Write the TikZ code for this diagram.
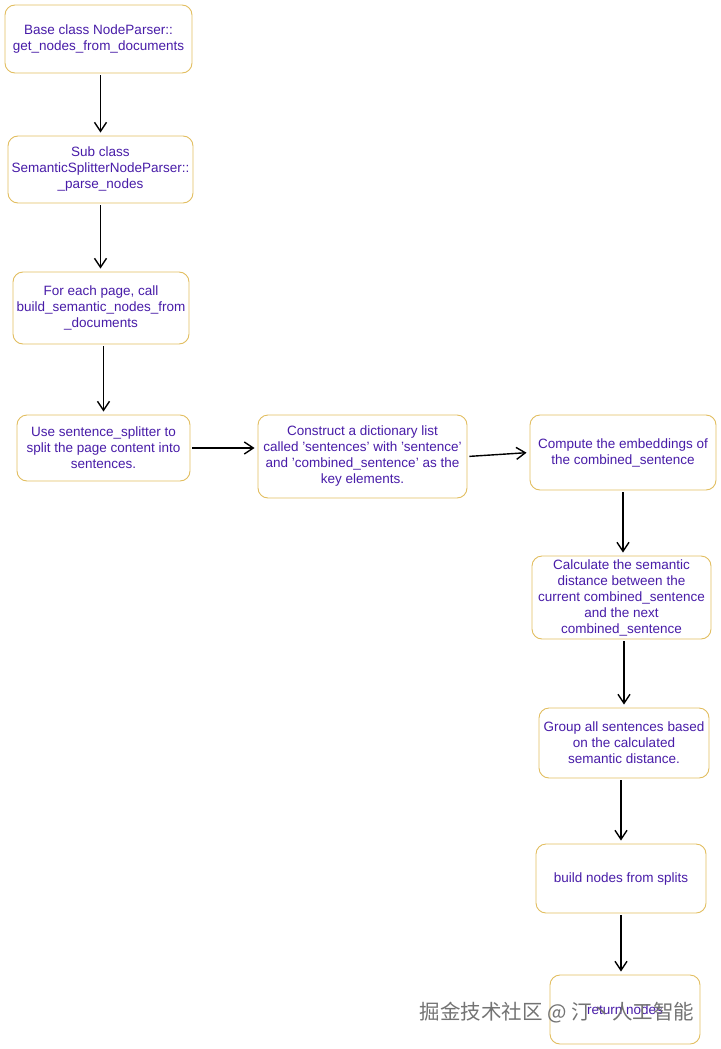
\documentclass[tikz,border=0pt]{standalone}
\usepackage{fontspec}
\setmainfont{Liberation Sans}
\newfontfamily\cjkfont{Noto Sans CJK SC}
\usepackage{tikz}
\usetikzlibrary{arrows.meta, positioning}
\definecolor{boxedge}{RGB}{226, 190, 96}
\definecolor{boxtext}{RGB}{72, 28, 168}
\definecolor{markgray}{RGB}{115, 115, 115}

\begin{document}
\begin{tikzpicture}[x=1pt, y=-1pt,
        flowbox/.style={rectangle, rounded corners=10pt, draw=boxedge, line width=0.9pt, fill=white,
            text=boxtext, align=center, inner sep=1pt, font=\fontsize{13.5}{16}\selectfont},
        flowarrow/.style={-{Straight Barb[length=9pt, width=12pt]}, line width=1.4pt, black,
            shorten <=2pt, shorten >=3pt}]
        \useasboundingbox (0,0) rectangle (720,1049);
        \node[flowbox, minimum width=187pt, minimum height=68pt] (base) at (98.5,39) {Base class NodeParser::\\get\_nodes\_from\_documents};
        \node[flowbox, minimum width=185pt, minimum height=67pt] (sub) at (100.5,169.5) {Sub class\\SemanticSplitterNodeParser::\\\_parse\_nodes};
        \node[flowbox, minimum width=176pt, minimum height=72pt] (page) at (101,308) {For each page, call\\build\_semantic\_nodes\_from\\\_documents};
        \node[flowbox, minimum width=173pt, minimum height=66pt] (split) at (103.5,448) {Use sentence\_splitter to\\split the page content into\\sentences.};
        \node[flowbox, minimum width=209pt, minimum height=83pt] (dict) at (362.5,456.5) {Construct a dictionary list\\called 'sentences' with 'sentence'\\and 'combined\_sentence' as the\\key elements.};
        \node[flowbox, minimum width=186pt, minimum height=75pt] (embed) at (623,452.5) {Compute the embeddings of\\the combined\_sentence};
        \node[flowbox, minimum width=179pt, minimum height=83pt] (dist) at (621.5,597.5) {Calculate the semantic\\distance between the\\current combined\_sentence\\and the next\\combined\_sentence};
        \node[flowbox, minimum width=170pt, minimum height=70pt] (group) at (624,743) {Group all sentences based\\on the calculated\\semantic distance.};
        \node[flowbox, minimum width=170pt, minimum height=69pt] (build) at (621,878.5) {build nodes from splits};
        \node[flowbox, minimum width=150pt, minimum height=69pt] (ret) at (625,1009.5) {return nodes};
        \draw[flowarrow] (sub.north |- base.south) -- (sub.north);
        \draw[flowarrow] (sub.south) -- (sub.south |- page.north);
        \draw[flowarrow] (split.north |- page.south) -- (split.north);
        \draw[flowarrow] (split.east) -- (dict.west |- split.east);
        \draw[flowarrow] (dict.east) -- (embed.west);
        \draw[flowarrow] (embed.south) -- (embed.south |- dist.north);
        \draw[flowarrow] (group.north |- dist.south) -- (group.north);
        \draw[flowarrow] (build.north |- group.south) -- (build.north);
        \draw[flowarrow] (build.south) -- (build.south |- ret.north);
        \node[text=markgray, font=\cjkfont\fontsize{20.5}{20.5}\selectfont] (watermark) at (557,1013) {掘金技术社区 @ 汀丶人工智能};
    \end{tikzpicture}
\end{document}
